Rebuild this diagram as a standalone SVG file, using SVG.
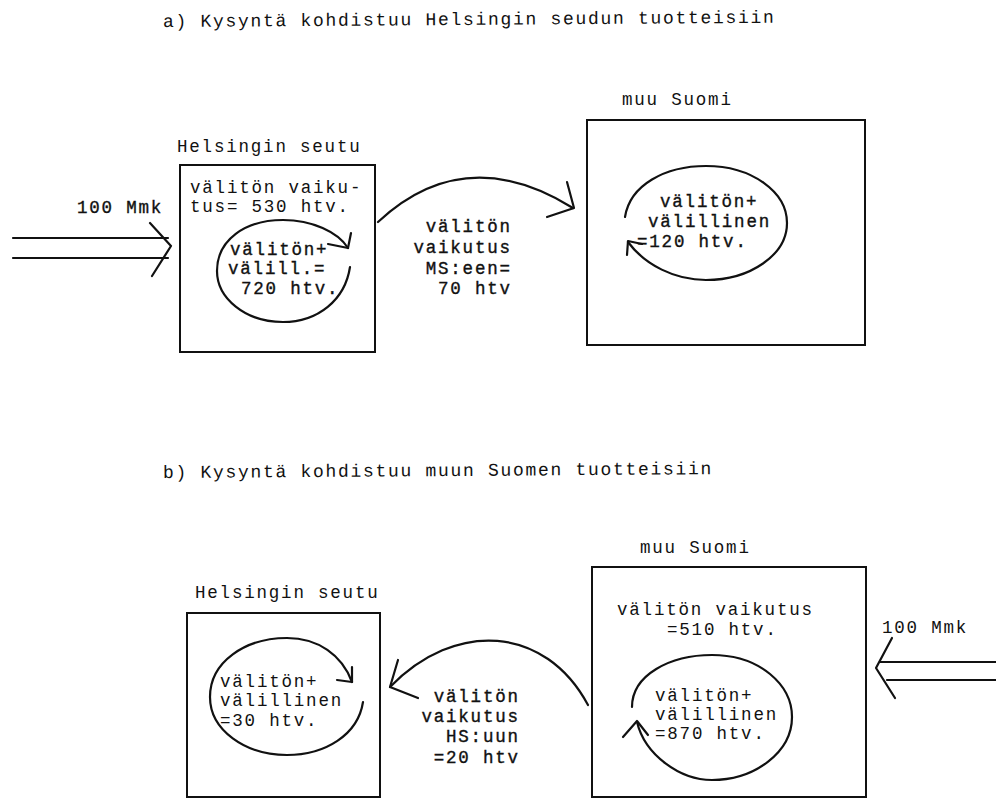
<svg xmlns="http://www.w3.org/2000/svg" width="996" height="799" viewBox="0 0 996 799">
<style>
text{font-family:"Liberation Mono","Courier New",monospace;font-size:17.5px;letter-spacing:1.8px;fill:#111}
.title{font-size:18px;letter-spacing:1.7px}
.b{stroke:#111;stroke-width:0.35px}
.box{fill:none;stroke:#111;stroke-width:2}
.ln{fill:none;stroke:#111;stroke-width:2.2;stroke-linecap:round;stroke-linejoin:round}
</style>
<rect width="996" height="799" fill="#fff"/>
<text class="title" x="163" y="27" transform="rotate(-0.4 163 27)">a) Kysyntä kohdistuu Helsingin seudun tuotteisiin</text>
<text class="title" x="163" y="478" transform="rotate(-0.4 163 478)">b) Kysyntä kohdistuu muun Suomen tuotteisiin</text>

<g id="a-helsinki">
<text x="177" y="152">Helsingin seutu</text>
<rect class="box" x="180" y="165" width="195" height="187"/>
<text x="190" y="193">välitön vaiku-</text>
<text x="190" y="212">tus= 530 htv.</text>
<path class="ln" d="M350 267 C345 300 318 322 283 322 C245 322 217 298 217 271 C217 240 245 220 283 220 C312 220 338 232 348 248"/>
<path class="ln" d="M351 233 L348 248 L328 244"/>
<text class="b" x="230" y="255">välitön+</text>
<text class="b" x="228" y="274">välill.=</text>
<text class="b" x="241" y="294">720 htv.</text>
</g>

<g id="a-muusuomi">
<text x="622" y="105">muu Suomi</text>
<rect class="box" x="587" y="120" width="278" height="225"/>
<path class="ln" d="M625 217 C630 185 665 166 706 166 C752 166 787 192 787 223 C787 255 750 280 706 280 C675 280 645 265 628 242"/>
<path class="ln" d="M642 244 L628 241 L627 255"/>
<text class="b" x="660" y="207">välitön+</text>
<text class="b" x="648" y="227">välillinen</text>
<text class="b" x="637" y="247">=120 htv.</text>
</g>

<g id="b-helsinki">
<text x="195" y="598">Helsingin seutu</text>
<rect class="box" x="187" y="613" width="193" height="184"/>
<path class="ln" d="M363 702 C358 735 325 755 287 755 C245 755 210 730 210 697 C210 662 245 638 287 638 C318 638 342 655 352 682"/>
<path class="ln" d="M352 667 L352 682 L337 680"/>
<text x="220" y="687">välitön+</text>
<text x="220" y="706">välillinen</text>
<text x="220" y="726">=30 htv.</text>
</g>

<g id="b-muusuomi">
<text x="640" y="553">muu Suomi</text>
<rect class="box" x="592" y="567" width="274" height="230"/>
<text x="617" y="615">välitön vaikutus</text>
<text x="667" y="635">=510 htv.</text>
<path class="ln" d="M632 707 C632 675 670 655 712 655 C760 655 792 685 792 717 C792 752 755 780 712 780 C680 780 645 755 637 722"/>
<path class="ln" d="M623 737 L637 721 L648 735"/>
<text x="655" y="701">välitön+</text>
<text x="655" y="720">välillinen</text>
<text x="655" y="739">=870 htv.</text>
</g>

<g id="connectors">
<path class="ln" d="M13 238 L168 238 M13 258 L168 258"/>
<path class="ln" d="M150 223 L171 246 L152 276"/>
<text class="b" x="77" y="213">100 Mmk</text>

<path class="ln" d="M378 222 Q465 141 573 208"/>
<path class="ln" d="M567 182 L574 208 L547 217"/>
<text class="b" x="511.8" y="232" text-anchor="end">välitön</text>
<text class="b" x="511.8" y="253" text-anchor="end">vaikutus</text>
<text class="b" x="511.8" y="274" text-anchor="end">MS:een=</text>
<text class="b" x="511.8" y="294" text-anchor="end">70 htv</text>

<path class="ln" d="M588 705 C545 625 455 620 390 687"/>
<path class="ln" d="M398 660 L390 687 L418 698"/>
<text class="b" x="519.8" y="702" text-anchor="end">välitön</text>
<text class="b" x="519.8" y="722" text-anchor="end">vaikutus</text>
<text class="b" x="519.8" y="742" text-anchor="end">HS:uun</text>
<text class="b" x="519.8" y="763" text-anchor="end">=20 htv</text>

<path class="ln" d="M880 662 L996 662 M887 680 L996 680"/>
<path class="ln" d="M892 638 L876 668 L895 698"/>
<text x="882" y="633">100 Mmk</text>
</g>
</svg>
